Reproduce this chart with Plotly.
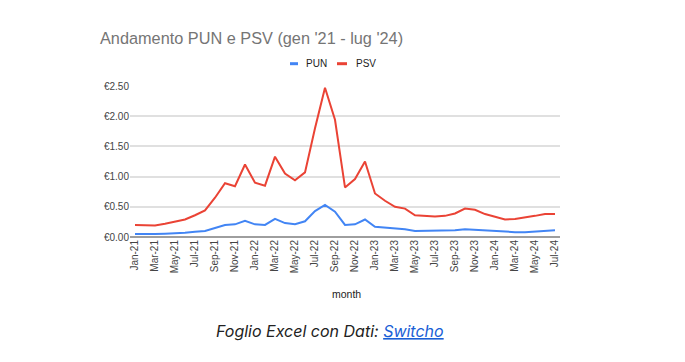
import plotly.graph_objects as go

months = ["Jan-21","Feb-21","Mar-21","Apr-21","May-21","Jun-21","Jul-21","Aug-21","Sep-21","Oct-21","Nov-21","Dec-21",
          "Jan-22","Feb-22","Mar-22","Apr-22","May-22","Jun-22","Jul-22","Aug-22","Sep-22","Oct-22","Nov-22","Dec-22",
          "Jan-23","Feb-23","Mar-23","Apr-23","May-23","Jun-23","Jul-23","Aug-23","Sep-23","Oct-23","Nov-23","Dec-23",
          "Jan-24","Feb-24","Mar-24","Apr-24","May-24","Jun-24","Jul-24"]

pun = [0.05, 0.045, 0.05, 0.055, 0.06, 0.07, 0.085, 0.10, 0.15, 0.20, 0.21, 0.27,
       0.21, 0.20, 0.30, 0.23, 0.21, 0.26, 0.43, 0.53, 0.42, 0.20, 0.21, 0.29,
       0.17, 0.16, 0.14, 0.13, 0.10, 0.10, 0.11, 0.11, 0.11, 0.13, 0.12, 0.11,
       0.09, 0.08, 0.08, 0.08, 0.09, 0.10, 0.11]

psv = [0.20, 0.19, 0.19, 0.22, 0.26, 0.29, 0.36, 0.44, 0.65, 0.89, 0.84, 1.20,
       0.90, 0.85, 1.33, 1.05, 0.94, 1.07, 1.80, 2.47, 1.94, 0.82, 0.96, 1.25,
       0.72, 0.60, 0.50, 0.47, 0.36, 0.35, 0.34, 0.35, 0.39, 0.47, 0.45, 0.38,
       0.33, 0.29, 0.30, 0.32, 0.35, 0.38, 0.38]

tick_labels = months[::2]
yticks = [0, 0.5, 1.0, 1.5, 2.0, 2.5]
ytick_labels = ["€0.00", "€0.50", "€1.00", "€1.50", "€2.00", "€2.50"]

series_names = ["PUN", "PSV"]
series_colors = ["#4285F4", "#EA4335"]

x = list(range(len(months)))

W, H = 685, 362
L, R, T, B = 122, 133, 78, 133
PW, PH = W - L - R, H - T - B


def px_x(p):
    return (p - L) / PW


def px_y(p):
    return (H - B - p) / PH


fig = go.Figure()
for name, vals, col in zip(series_names, [pun, psv], series_colors):
    fig.add_trace(go.Scatter(x=x, y=vals, mode="lines", name=name,
                             line=dict(color=col, width=2), showlegend=False))

fig.update_layout(
    width=W, height=H,
    margin=dict(l=L, r=R, t=T, b=B, autoexpand=False),
    paper_bgcolor="white", plot_bgcolor="white",
    font=dict(family="Arial, Liberation Sans, sans-serif", size=10, color="#444444"),
    title=dict(text="Andamento PUN e PSV (gen '21 - lug '24)",
               x=92 / W, xanchor="left", y=1 - 30 / H, yanchor="middle",
               font=dict(size=16.3, color="#757575")),
    showlegend=False,
    xaxis=dict(range=[-0.5, 42.5], tickmode="array", tickvals=x[::2], ticktext=tick_labels,
               tickangle=-90, showgrid=False, zeroline=False, showline=False, automargin=False,
               ticks="", tickfont=dict(size=10, color="#444444")),
    yaxis=dict(range=[0, 2.5], tickmode="array", tickvals=yticks, ticktext=ytick_labels,
               showgrid=True, gridcolor="#e0e0e0", gridwidth=1.5, zeroline=True,
               zerolinecolor="#9e9e9e", zerolinewidth=1.5, ticks="", automargin=False,
               tickfont=dict(size=10, color="#444444")),
)

# legend (Google-style short dashes)
leg_y = 55.7
leg_items = [(282, 290, 296), (329, 339, 346)]
for (x0, x1, tx), name, col in zip(leg_items, series_names, series_colors):
    fig.add_shape(type="rect", xref="paper", yref="paper",
                  x0=px_x(x0), x1=px_x(x1), y0=px_y(leg_y + 1.5), y1=px_y(leg_y - 1.5),
                  fillcolor=col, line=dict(width=0))
    fig.add_annotation(text=name, xref="paper", yref="paper", x=px_x(tx), y=px_y(leg_y),
                       xanchor="left", yanchor="middle", showarrow=False,
                       font=dict(size=10, color="#222222"))

# axis title
fig.add_annotation(text="month", xref="paper", yref="paper", x=px_x(338), y=px_y(286),
                   xanchor="center", yanchor="middle", showarrow=False,
                   font=dict(size=10.5, color="#222222"))

# footer
fig.add_annotation(
    text="<i>Foglio Excel con Dati: <span style='color:#1a5fd6'><u>Switcho</u></span></i>",
    xref="paper", yref="paper", x=px_x(322), y=px_y(323), xanchor="center", yanchor="middle",
    showarrow=False, font=dict(family="Inter, Noto Sans, sans-serif", size=16, color="#222222"),
)

fig.write_html("out.html")
